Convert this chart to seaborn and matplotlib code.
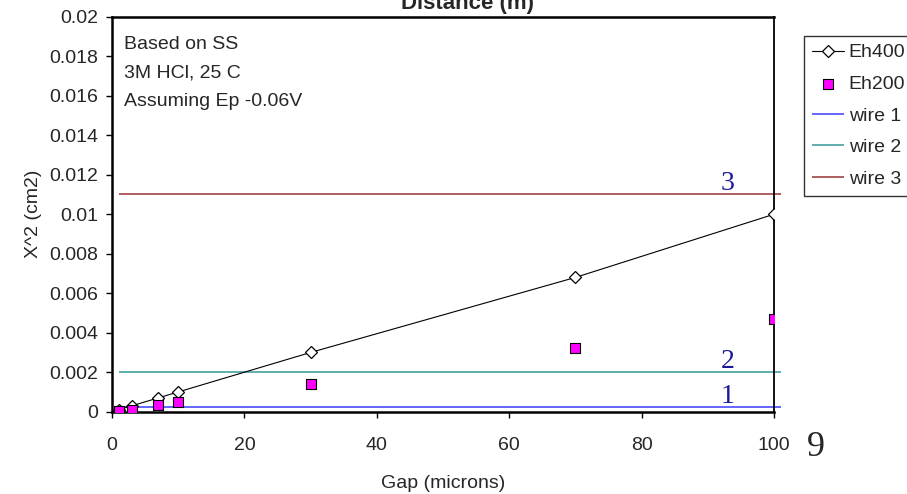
import numpy as np
import pandas as pd
import seaborn as sns
import matplotlib.pyplot as plt
from matplotlib.ticker import FuncFormatter

# data
gap = [1, 3, 7, 10, 30, 70, 100]
eh400 = [0.0001, 0.0003, 0.0007, 0.001, 0.003, 0.0068, 0.01]
eh200 = [0.00005, 0.0001, 0.00035, 0.0005, 0.0014, 0.00325, 0.0047]

wire_names = ["wire 1", "wire 2", "wire 3"]
wire_levels = [0.00025, 0.002, 0.011]
wire_colors = ["#3a3aff", "#339999", "#993333"]
wire_span = [1, 101]
wire_tags = ["1", "2", "3"]

note_lines = ["Based on SS", "3M HCl, 25 C", "Assuming Ep -0.06V"]
xticks = [0, 20, 40, 60, 80, 100]
yticks = np.round(np.arange(0, 0.0201, 0.002), 3)

sns.set_style("white")
plt.rcParams["font.family"] = ["Liberation Sans", "DejaVu Sans"]
plt.rcParams["font.size"] = 14

df = pd.DataFrame({"gap": gap, "Eh400": eh400, "Eh200": eh200})

fig = plt.figure(figsize=(9.07, 4.94), dpi=100)
ax = fig.add_axes([0.1235, 0.1666, 0.73, 0.7996])

sns.lineplot(data=df, x="gap", y="Eh400", ax=ax, color="black", lw=0.8,
             marker="D", markersize=6, markerfacecolor="white",
             markeredgecolor="black", markeredgewidth=0.9, label="Eh400",
             zorder=3)
sns.scatterplot(data=df, x="gap", y="Eh200", ax=ax, marker="s", s=58,
                color="#ff00ff", edgecolor="black", linewidth=0.8,
                label="Eh200", zorder=4)

# horizontal wire levels
for name, lvl, col in zip(wire_names, wire_levels, wire_colors):
    ax.hlines(lvl, wire_span[0], wire_span[1], colors=col, lw=1.1,
              label=name, clip_on=False, zorder=2)

for tag, lvl in zip(wire_tags, wire_levels):
    ax.text(93, lvl + 0.0002, tag, family="Liberation Serif", fontsize=20,
            color="#1a1a99", ha="center", va="baseline")

ax.set_xlim(0, 100)
ax.set_ylim(0, 0.02)
ax.set_xticks(xticks)
ax.set_yticks(yticks)
ax.yaxis.set_major_formatter(FuncFormatter(lambda v, p: f"{v:g}"))
ax.tick_params(axis="both", direction="out", length=4, width=1,
               color="black", labelsize=14, bottom=True, left=True)
ax.tick_params(axis="x", pad=14)
ax.tick_params(axis="y", pad=6)
ax.set_xlabel("")
ax.set_ylabel("X^2 (cm2)", fontsize=14)
ax.yaxis.set_label_coords(-0.106, 0.5)

for side, sp in ax.spines.items():
    sp.set_visible(True)
    sp.set_color("black")
    sp.set_linewidth(1.3 if side == "right" else 1.8)

for i, line in enumerate(note_lines):
    fig.text(124 / 907, 1 - (49 + 28.5 * i) / 494, line, fontsize=14,
             va="baseline", ha="left")

fig.text(443 / 907, 1 - 483 / 494, "Gap (microns)", fontsize=14,
         ha="center", va="center")
fig.text(467 / 907, 1 - 9 / 494, "Distance (m)", fontsize=16,
         fontweight="bold", ha="center", va="baseline")
fig.text(816 / 907, 1 - 456 / 494, "9", family="Liberation Serif",
         fontsize=26, ha="center", va="baseline")

handles, labels = ax.get_legend_handles_labels()
ax.get_legend().remove()
leg = fig.legend(handles, labels, loc="upper left",
                 bbox_to_anchor=(804 / 907, 1 - 36 / 494), fontsize=14,
                 frameon=True, fancybox=False, edgecolor="black",
                 handlelength=1.65, handletextpad=0.25, labelspacing=0.72,
                 borderpad=0.4, borderaxespad=0)
leg.get_frame().set_linewidth(1.0)

fig.savefig("out.png", dpi=100)
